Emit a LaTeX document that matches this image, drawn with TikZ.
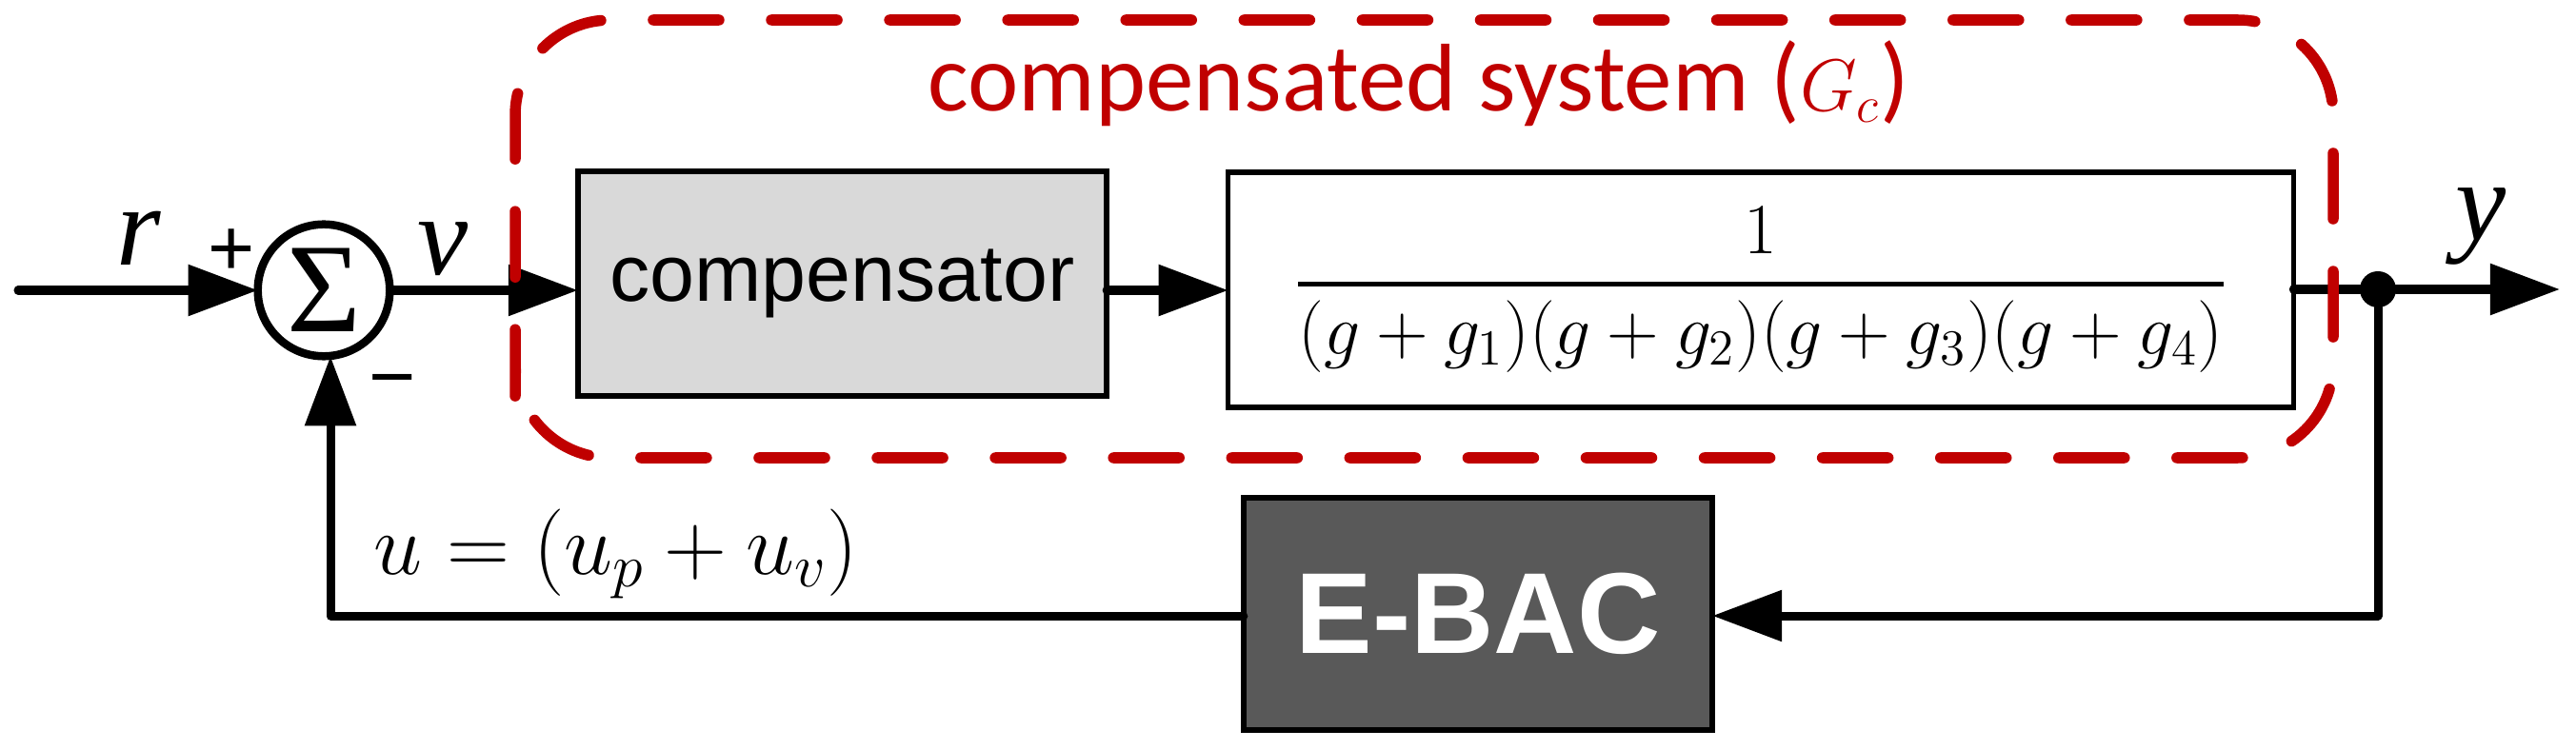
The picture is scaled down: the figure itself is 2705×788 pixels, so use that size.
\RequirePackage{fix-cm}
\documentclass[tikz,border=0pt]{standalone}
\usepackage{fontspec}
\usetikzlibrary{arrows.meta}
\newfontfamily\arialf{Liberation Sans}
\newfontfamily\timesf{Liberation Serif}
\newfontfamily\calib{Carlito}
\definecolor{dred}{HTML}{C00000}
\definecolor{compgray}{HTML}{D9D9D9}
\definecolor{ebacgray}{HTML}{595959}
\begin{document}
\begin{tikzpicture}[x=0.01cm, y=-0.01cm,
  wire/.style={line width=0.09cm, line cap=round, line join=round},
  arrowwire/.style={wire, -{Triangle[length=0.73cm, width=0.52cm]}},
  blockbox/.style={draw, line width=0.055cm, inner sep=0pt, outer sep=0pt},
  mathlbl/.style={font=\timesf\itshape\fontsize{34}{34}\selectfont, inner sep=0pt, anchor=base},
  signlbl/.style={font=\arialf\fontsize{24}{24}\selectfont, inner sep=0pt},
  groupbox/.style={draw=dred, line width=0.115cm, line cap=round, rounded corners=1cm,
    dash pattern=on 0.69cm off 0.55cm, dash phase=0.24cm}
]
\useasboundingbox (0,0) rectangle (2705,788);

% blocks
\node[draw, circle, line width=0.085cm, minimum size=1.385cm, inner sep=0pt, outer sep=0pt,
      font=\timesf\fontsize{38}{38}\selectfont] (sum) at (340,305) {Σ};
\node[blockbox, fill=compgray, minimum width=5.55cm, minimum height=2.36cm,
      font=\arialf\fontsize{24}{24}\selectfont] (comp) at (884.5,298) {compensator};
\node[blockbox, fill=white, minimum width=11.18cm, minimum height=2.47cm,
      font=\fontsize{21.5}{26}\selectfont] (plant) at (1849,304.5)
      {$\displaystyle{1\above1.4pt(g+g_1)(g+g_2)(g+g_3)(g+g_4)}$};
\node[blockbox, fill=ebacgray, minimum width=4.92cm, minimum height=2.44cm, text=white,
      font=\arialf\bfseries\fontsize{34.4}{34.4}\selectfont] (ebac) at (1552,645) {E-BAC};
\node[circle, fill=black, minimum size=0.38cm, inner sep=0pt, outer sep=0pt] (dot) at (2497,304) {};

% coordinates
\coordinate (in) at (19,305);
\coordinate (out) at (2688,304);
\coordinate (c2) at (2497,647);
\coordinate (c1) at (347,647);

% connectors
\draw[arrowwire] (in) -- (sum.west);
\draw[arrowwire] (sum.east) -- (sum.east -| comp.west);
\draw[arrowwire] (sum.east -| comp.east) -- (sum.east -| plant.west);
\draw[wire] (plant.east |- dot) -- (dot);
\draw[arrowwire] (dot) -- (out);
\draw[arrowwire] (dot) -- (c2) -- (c2 -| ebac.east);
\draw[arrowwire] (c1 -| ebac.west) -- (c1) -- (c1 |- sum.south);

% labels
\node[mathlbl] (lr) at (146,279) {r};
\node[mathlbl] (lv) at (465,288) {v};
\node[mathlbl] (ly) at (2605,252) {y};
\node[signlbl] (lplus) at (243,265) {+};
\node[signlbl] (lminus) at (412,409) {−};
\node[anchor=base west, inner sep=0pt, font=\fontsize{26}{30}\selectfont] (lu) at (392,603) {$u=(u_p+u_v)$};

% compensated system group
\draw[groupbox] (541,316) -- (541,481) -- (2450,481) -- (2450,21) -- (541,21) -- cycle;
\node[anchor=base, inner sep=0pt, text=dred, font=\calib\fontsize{28.7}{30}\selectfont] (title) at (1490,117)
  {compensated system ({\fontsize{22}{22}\selectfont$G_c$})};
\end{tikzpicture}
\end{document}
